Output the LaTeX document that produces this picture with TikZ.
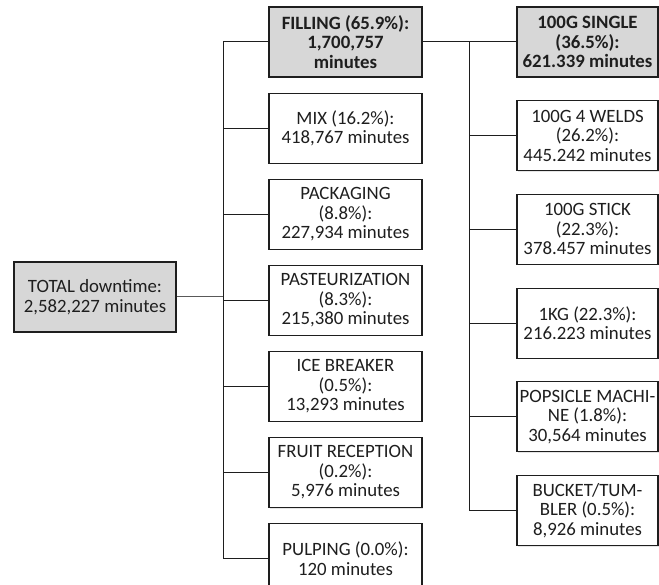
\documentclass[tikz,border=0pt]{standalone}
\usepackage{fontspec}
\setmainfont{Carlito}
\usepackage{tikz}
\usetikzlibrary{positioning, shadows}
\definecolor{boxgray}{HTML}{D7D7D7}
\definecolor{inkgray}{HTML}{1E1E1E}

\begin{document}
\begin{tikzpicture}[
        % --- Style Definitions ---
        node distance=15pt,
        box/.style={rectangle, draw=inkgray, line width=1.1pt, fill=white, text=inkgray,
            minimum height=70pt, align=center, inner sep=1.5pt,
            font=\fontsize{18.8}{19.5}\selectfont,
            drop shadow={shadow xshift=1pt, shadow yshift=-1pt, fill=black!20}},
        midbox/.style={box, minimum width=153pt},
        subbox/.style={box, minimum width=141pt},
        hibox/.style={fill=boxgray, font=\fontsize{18.8}{19.5}\selectfont\bfseries},
        link/.style={draw=inkgray, line width=1pt},
        totallink/.style={draw=black!65, line width=1pt}
    ]
        \useasboundingbox (0,0) rectangle (659pt,-585pt);

        % --- Root ---
        \node[box, hibox, minimum width=162pt, font=\fontsize{18.8}{19.5}\selectfont] (total) at (95pt,-297pt)
            {TOTAL downtime:\\2,582,227 minutes};

        % --- Areas (middle column) ---
        \node[midbox, hibox] (filling) at (345.5pt,-42pt) {FILLING (65.9\%):\\1,700,757\\minutes};
        \node[midbox] (mix)        [below=of filling]    {MIX (16.2\%):\\418,767 minutes};
        \node[midbox] (packaging)  [below=of mix]        {PACKAGING\\(8.8\%):\\227,934 minutes};
        \node[midbox] (pasteur)    [below=of packaging]  {PASTEURIZATION\\(8.3\%):\\215,380 minutes};
        \node[midbox] (icebreaker) [below=of pasteur]    {ICE BREAKER\\(0.5\%):\\13,293 minutes};
        \node[midbox] (fruit)      [below=of icebreaker] {FRUIT RECEPTION\\(0.2\%):\\5,976 minutes};
        \node[midbox] (pulping)    [below=of fruit]      {PULPING (0.0\%):\\120 minutes};

        % --- Filling lines (right column) ---
        \node[subbox, hibox] (single) at (587.5pt,-42pt) {100G SINGLE\\(36.5\%):\\621.339 minutes};
        \node[subbox] (welds)   [below=22.6pt of single] {100G 4 WELDS\\(26.2\%):\\445.242 minutes};
        \node[subbox] (stick)   [below=22.6pt of welds]  {100G STICK\\(22.3\%):\\378.457 minutes};
        \node[subbox] (onekg)   [below=22.6pt of stick]  {1KG (22.3\%):\\216.223 minutes};
        \node[subbox] (popsicle)[below=22.6pt of onekg]  {POPSICLE MACHI-\\NE (1.8\%):\\30,564 minutes};
        \node[subbox] (bucket)  [below=22.6pt of popsicle] {BUCKET/TUM-\\BLER (0.5\%):\\8,926 minutes};

        % --- Trunks ---
        \coordinate (ltrunk) at (223pt,0);
        \coordinate (rtrunk) at (469pt,0);

        % --- Connectors ---
        \draw[totallink] (total.east) -- (total.east -| ltrunk);
        \draw[link] (filling.west) -- (filling.west -| ltrunk) -- (pulping.west -| ltrunk) -- (pulping.west);
        \foreach \n in {mix, packaging, pasteur, icebreaker, fruit}
            \draw[link] (\n.west -| ltrunk) -- (\n.west);

        \draw[link] (filling.east) -- (single.west);
        \draw[link] (single.west -| rtrunk) -- (bucket.west -| rtrunk) -- (bucket.west);
        \foreach \n in {welds, stick, onekg, popsicle}
            \draw[link] (\n.west -| rtrunk) -- (\n.west);

    \end{tikzpicture}
\end{document}
